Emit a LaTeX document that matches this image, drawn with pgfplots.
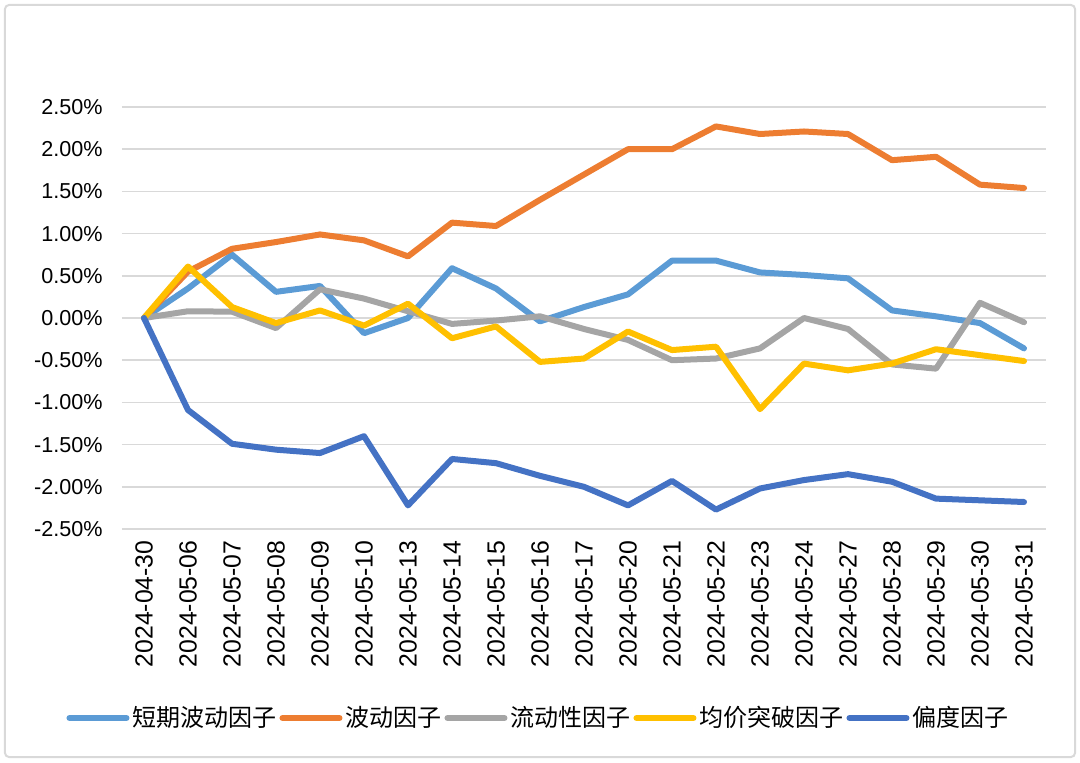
\documentclass[border=0pt]{standalone}
\usepackage{fontspec}
\setmainfont{Liberation Sans}
\newfontfamily\cjk{Noto Sans CJK SC}
\usepackage{pgfplots}
\pgfplotsset{compat=1.18}

\definecolor{cshort}{HTML}{5B9BD5}
\definecolor{cvol}{HTML}{ED7D31}
\definecolor{cliq}{HTML}{A5A5A5}
\definecolor{cma}{HTML}{FFC000}
\definecolor{cskew}{HTML}{4472C4}
\definecolor{cgrid}{HTML}{D9D9D9}

\begin{document}
\begin{tikzpicture}
% page frame (1px = 0.5pt, axis origin at pixel (122,529))
\path[use as bounding box] (-61pt,-116.5pt) rectangle (479pt,264.5pt);
\draw[cgrid, line width=1pt, rounded corners=2pt] (-58.5pt,-114pt) rectangle (476.5pt,262pt);

\begin{axis}[
  scale only axis,
  width=462pt, height=211pt,
  at={(0pt,0pt)}, anchor=south west,
  xmin=-0.5, xmax=20.5,
  ymin=-2.5, ymax=2.5,
  axis line style={draw=none},
  major tick length=0pt,
  ymajorgrids,
  grid style={cgrid, line width=0.75pt},
  xtick={0,...,20},
  xticklabels={2024-04-30,2024-05-06,2024-05-07,2024-05-08,2024-05-09,2024-05-10,
    2024-05-13,2024-05-14,2024-05-15,2024-05-16,2024-05-17,2024-05-20,2024-05-21,
    2024-05-22,2024-05-23,2024-05-24,2024-05-27,2024-05-28,2024-05-29,2024-05-30,2024-05-31},
  ytick={-2.5,-2,-1.5,-1,-0.5,0,0.5,1,1.5,2,2.5},
  yticklabels={-2.50\%,-2.00\%,-1.50\%,-1.00\%,-0.50\%,0.00\%,0.50\%,1.00\%,1.50\%,2.00\%,2.50\%},
  xticklabel style={rotate=90, anchor=east, inner sep=0pt, font=\fontsize{12.4}{14}\selectfont},
  yticklabel style={anchor=east, inner sep=0pt, font=\fontsize{10.8}{13}\selectfont},
  xticklabel shift=5.5pt,
  yticklabel shift=9.5pt,
  legend columns=5,
  legend style={
    at={(0.4513,-0.4479)}, anchor=center,
    draw=none, fill=none, inner sep=0pt,
    font=\cjk\fontsize{12}{14}\selectfont,
    nodes={inner sep=1.5pt},
    /tikz/every even column/.append style={column sep=0pt},
  },
  legend image code/.code={\draw[#1, line width=3pt] (0pt,0pt) -- (28.5pt,0pt);},
  every axis plot/.append style={line width=3pt, line join=round, line cap=round, mark=none},
]
% 短期波动因子
\addplot[cshort] coordinates {
  (0,0)(1,0.35)(2,0.75)(3,0.31)(4,0.38)(5,-0.18)(6,0.00)(7,0.59)(8,0.35)(9,-0.04)
  (10,0.13)(11,0.28)(12,0.68)(13,0.68)(14,0.54)(15,0.51)(16,0.47)(17,0.09)(18,0.02)
  (19,-0.06)(20,-0.36)
};
\addlegendentry{短期波动因子}
% 波动因子
\addplot[cvol] coordinates {
  (0,0)(1,0.55)(2,0.82)(3,0.90)(4,0.99)(5,0.92)(6,0.73)(7,1.13)(8,1.09)(9,1.40)
  (10,1.70)(11,2.00)(12,2.00)(13,2.27)(14,2.18)(15,2.21)(16,2.18)(17,1.87)(18,1.91)
  (19,1.58)(20,1.54)
};
\addlegendentry{波动因子}
% 流动性因子
\addplot[cliq] coordinates {
  (0,0)(1,0.08)(2,0.075)(3,-0.12)(4,0.34)(5,0.23)(6,0.08)(7,-0.07)(8,-0.03)(9,0.02)
  (10,-0.13)(11,-0.26)(12,-0.50)(13,-0.48)(14,-0.36)(15,0.00)(16,-0.13)(17,-0.55)
  (18,-0.60)(19,0.18)(20,-0.05)
};
\addlegendentry{流动性因子}
% 均价突破因子
\addplot[cma] coordinates {
  (0,0)(1,0.61)(2,0.13)(3,-0.06)(4,0.09)(5,-0.09)(6,0.17)(7,-0.24)(8,-0.10)(9,-0.52)
  (10,-0.48)(11,-0.16)(12,-0.38)(13,-0.34)(14,-1.08)(15,-0.54)(16,-0.62)(17,-0.54)
  (18,-0.37)(19,-0.44)(20,-0.51)
};
\addlegendentry{均价突破因子}
% 偏度因子
\addplot[cskew] coordinates {
  (0,0)(1,-1.09)(2,-1.49)(3,-1.56)(4,-1.60)(5,-1.40)(6,-2.22)(7,-1.67)(8,-1.72)(9,-1.87)
  (10,-2.00)(11,-2.22)(12,-1.93)(13,-2.27)(14,-2.02)(15,-1.92)(16,-1.85)(17,-1.94)
  (18,-2.14)(19,-2.16)(20,-2.18)
};
\addlegendentry{偏度因子}
\end{axis}
\end{tikzpicture}
\end{document}
